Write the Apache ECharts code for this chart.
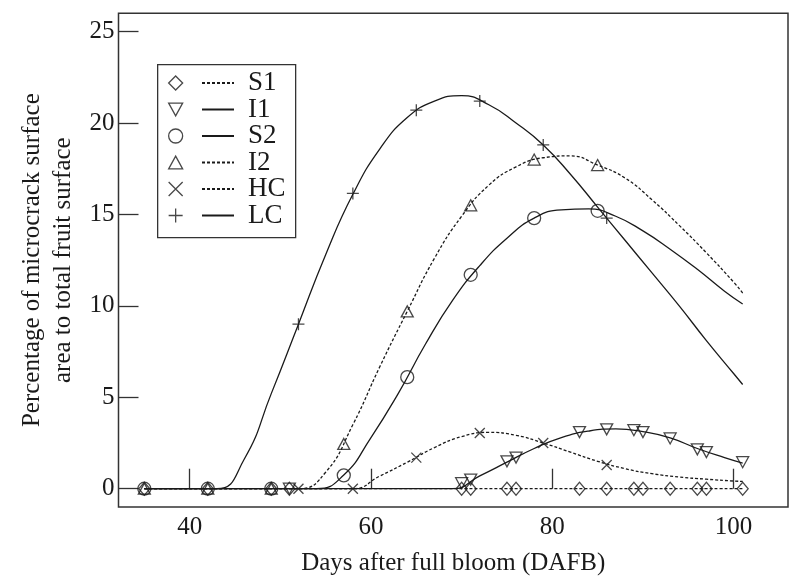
<!DOCTYPE html>
<html>
<head>
<meta charset="utf-8">
<script src="https://cdn.jsdelivr.net/npm/echarts@6/dist/echarts.min.js"></script>
<style>
  html, body { margin: 0; padding: 0; background: #fff; }
  #chart { width: 794px; height: 581px; }
</style>
</head>
<body>
<div id="chart"></div>
<script>
// tick labels
const xTicks = [40, 60, 80, 100];
const yTicks = [0, 5, 10, 15, 20, 25];

// observed points (markers)
const s1Days = [35, 42, 49, 51, 70, 71, 75, 76, 83, 86, 89, 90, 93, 96, 97, 101];
const s1Obs  = [0, 0, 0, 0, 0, 0, 0, 0, 0, 0, 0, 0, 0, 0, 0, 0];
const i1Days = [51, 70, 71, 75, 76, 83, 86, 89, 90, 93, 96, 97, 101];
const i1Obs  = [0, 0.3, 0.5, 1.5, 1.7, 3.1, 3.25, 3.2, 3.1, 2.75, 2.15, 2.0, 1.45];
const s2Days = [35, 42, 49, 57, 64, 71, 78, 85];
const s2Obs  = [0, 0, 0, 0.73, 6.1, 11.7, 14.8, 15.2];
const i2Days = [35, 42, 49, 57, 64, 71, 78, 85];
const i2Obs  = [0, 0, 0, 2.45, 9.7, 15.5, 18.0, 17.7];
const hcDays = [52, 58, 65, 72, 79, 86];
const hcObs  = [0, 0, 1.7, 3.05, 2.5, 1.3];
const lcDays = [52, 58, 65, 72, 79, 86];
const lcObs  = [9.0, 16.15, 20.7, 21.2, 18.8, 14.8];

// fitted curves (flat at 0 from day 35 until each one lifts off)
const s1CurveDays = [35, 101];
const s1Curve     = [0, 0];
const i1CurveDays = [35, 69, 72, 75, 78, 81, 84, 87, 90, 93, 96, 99, 101];
const i1Curve     = [0, 0, 0.7, 1.45, 2.2, 2.8, 3.15, 3.27, 3.12, 2.78, 2.2, 1.7, 1.4];
const s2CurveDays = [35, 54, 57, 60, 63, 66, 69, 72, 75, 78, 81, 84, 87, 90, 93, 96, 99, 101];
const s2Curve     = [0, 0, 0.75, 2.8, 5.2, 7.9, 10.3, 12.2, 13.7, 14.8, 15.25, 15.3, 14.9, 14.1, 13.1, 12.0, 10.8, 10.1];
const i2CurveDays = [35, 52, 55, 58, 61, 64, 67, 70, 73, 76, 79, 82, 85, 88, 91, 94, 97, 100, 101];
const i2Curve     = [0, 0, 0.9, 3.5, 6.7, 9.7, 12.6, 14.9, 16.6, 17.6, 18.1, 18.2, 17.7, 17.0, 15.8, 14.4, 12.9, 11.3, 10.7];
const hcCurveDays = [35, 58, 61, 64, 67, 70, 73, 76, 79, 82, 85, 88, 91, 94, 97, 100, 101];
const hcCurve     = [0, 0, 0.7, 1.45, 2.25, 2.85, 3.08, 2.92, 2.5, 2.0, 1.5, 1.1, 0.82, 0.64, 0.52, 0.42, 0.4];
const lcCurveDays = [35, 43, 46, 49, 52, 55, 58, 61, 64, 67, 70, 73, 76, 79, 82, 85, 88, 91, 94, 97, 100, 101];
const lcCurve     = [0, 0, 1.6, 5.2, 9.0, 12.8, 16.1, 18.6, 20.3, 21.2, 21.5, 21.0, 20.0, 18.8, 17.2, 15.4, 13.6, 11.8, 10.0, 8.1, 6.3, 5.7];

const ink = '#1a1a1a';
const font = 'Liberation Serif';
const zip = (xs, ys) => xs.map((x, i) => [x, ys[i]]);

const groups = [
  {name: 'S1', days: s1Days, obs: s1Obs, cx: s1CurveDays, cy: s1Curve, dashed: true,
   symbol: 'diamond', size: [11, 13]},
  {name: 'I1', days: i1Days, obs: i1Obs, cx: i1CurveDays, cy: i1Curve, dashed: false,
   symbol: 'path://M0,0L12,0L6,11Z', size: [12, 11]},
  {name: 'S2', days: s2Days, obs: s2Obs, cx: s2CurveDays, cy: s2Curve, dashed: false,
   symbol: 'circle', size: 13},
  {name: 'I2', days: i2Days, obs: i2Obs, cx: i2CurveDays, cy: i2Curve, dashed: true,
   symbol: 'path://M6,0L12,11L0,11Z', size: [12, 11]},
  {name: 'HC', days: hcDays, obs: hcObs, cx: hcCurveDays, cy: hcCurve, dashed: true,
   symbol: 'path://M0,0L10,10M10,0L0,10', size: 10},
  {name: 'LC', days: lcDays, obs: lcObs, cx: lcCurveDays, cy: lcCurve, dashed: false,
   symbol: 'path://M6,0L6,12M0,6L12,6', size: 12}
];

const series = [];
groups.forEach(g => {
  series.push({
    name: g.name,
    type: 'line',
    data: zip(g.cx, g.cy),
    smooth: 0.5,
    symbol: 'none',
    lineStyle: {color: ink, width: 1.3, type: g.dashed ? [3, 2] : 'solid'},
    z: 2
  });
  series.push({
    name: g.name + ' obs',
    type: 'scatter',
    data: zip(g.days, g.obs),
    symbol: g.symbol,
    symbolSize: g.size,
    itemStyle: {color: 'transparent', borderColor: ink, borderWidth: 1.3},
    z: 3
  });
});

const legendText = {fontFamily: font, fontSize: 27, color: ink, padding: [0, 0, 0, 9]};

const chart = echarts.init(document.getElementById('chart'));
chart.setOption({
  animation: false,
  backgroundColor: '#fff',
  grid: {left: 118.5, right: 6, top: 13.3, bottom: 73, show: true,
         borderColor: '#333', borderWidth: 1.5, backgroundColor: 'transparent'},
  xAxis: {
    type: 'value', min: 32.15, max: 106,
    name: 'Days after full bloom (DAFB)', nameLocation: 'middle', nameGap: 44,
    nameTextStyle: {fontFamily: font, fontSize: 25, color: ink},
    axisLine: {show: false},
    axisTick: {show: true, inside: true, length: 20, customValues: xTicks,
               lineStyle: {color: '#333', width: 1.3}},
    axisLabel: {customValues: xTicks, fontFamily: font, fontSize: 25, color: ink, margin: 8},
    splitLine: {show: false}
  },
  yAxis: {
    type: 'value', min: -1, max: 26,
    name: 'Percentage of microcrack surface\narea to total fruit surface',
    nameLocation: 'middle', nameGap: 36,
    nameTextStyle: {fontFamily: font, fontSize: 25, color: ink, lineHeight: 31},
    axisLine: {show: false},
    axisTick: {show: true, inside: true, length: 20, customValues: yTicks,
               lineStyle: {color: '#333', width: 1.3}},
    axisLabel: {customValues: yTicks, fontFamily: font, fontSize: 25, color: ink, margin: 4},
    splitLine: {show: false}
  },
  graphic: [{
    type: 'rect', left: 157, top: 64, z: 3,
    shape: {width: 138, height: 173},
    style: {fill: '#fff', stroke: '#333', lineWidth: 1.3}
  }],
  legend: [
    {
      data: groups.map(g => g.name + ' obs'),
      orient: 'vertical', left: 168, top: 69.5, padding: 0,
      itemWidth: 14, itemHeight: 14, itemGap: -0.5,
      formatter: () => ' ',
      textStyle: legendText,
      itemStyle: {borderColor: ink, borderWidth: 1.3},
      selectedMode: false
    },
    {
      data: groups.map(g => g.name),
      orient: 'vertical', left: 201, top: 69.5, padding: 0,
      itemWidth: 32, itemHeight: 14, itemGap: -0.5,
      itemStyle: {color: 'transparent', borderColor: 'transparent', borderWidth: 0},
      textStyle: legendText,
      selectedMode: false
    }
  ],
  series: series
});
</script>
</body>
</html>
